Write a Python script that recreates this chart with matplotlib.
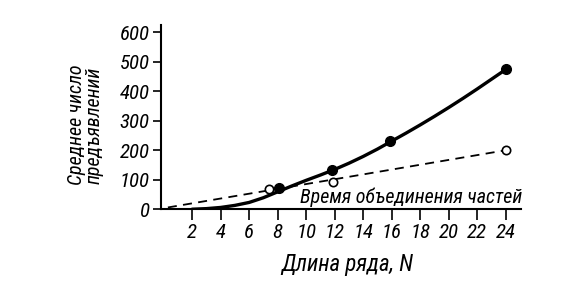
import matplotlib
matplotlib.use("Agg")
import matplotlib.pyplot as plt
from matplotlib import font_manager

# --- данные ---
# точки (заполненные кружки): среднее число предъявлений
N_FILLED = [8.1, 11.8, 15.9, 24]
Y_FILLED = [72, 132, 231, 474]
# точки (пустые кружки): время объединения частей
N_OPEN = [7.4, 11.9, 24]
Y_OPEN = [68, 93, 200]
# сглаженная кривая через заполненные точки
N_CURVE = [2, 3, 4, 5, 6, 7, 8, 9, 10, 11, 12, 13, 14, 15, 16,
           17, 18, 19, 20, 21, 22, 23, 24]
Y_CURVE = [0, 2, 6, 13, 23, 39, 59, 79, 98, 116, 135, 156, 179, 204, 231,
           258, 286, 315, 345, 376, 408, 441, 474]
# штриховая прямая
N_DASH = [0.3, 24]
Y_DASH = [6, 200]

X_TICKS = list(range(2, 25, 2))
Y_TICKS = list(range(0, 601, 100))

names = {f.name for f in font_manager.fontManager.ttflist}
if "Roboto Condensed" in names:
    FAMILY = ["Roboto Condensed", "DejaVu Sans"]
else:
    FAMILY = ["DejaVu Sans"]
plt.rcParams["font.family"] = FAMILY
plt.rcParams["font.style"] = "italic"

fig = plt.figure(figsize=(5.68, 2.87), dpi=100)
ax = fig.add_axes([0.283, 0.271, 0.635, 0.642])

ax.plot(N_CURVE, Y_CURVE, color="black", lw=2.4, solid_capstyle="round", zorder=2)
ax.plot(N_DASH, Y_DASH, color="black", lw=1.3, ls=(0, (5, 3.5)), zorder=2)
ax.plot(N_FILLED, Y_FILLED, "o", color="black", ms=7, zorder=3)
ax.plot(N_OPEN, Y_OPEN, "o", mfc="white", mec="black", mew=1.2, ms=6, zorder=3)

ax.text(9.6, 40, "Время объединения частей", fontsize=14.4, ha="left", va="center")

ax.set_xlim(-0.2, 25.1)
ax.set_ylim(0, 625)
ax.set_xticks(X_TICKS)
ax.set_yticks(Y_TICKS)
ax.tick_params(axis="both", direction="out", width=1.2, color="black", labelsize=15)
ax.tick_params(axis="x", length=8, pad=2)
ax.tick_params(axis="y", length=6, pad=2)
for s in ("top", "right"):
    ax.spines[s].set_visible(False)
for s in ("left", "bottom"):
    ax.spines[s].set_linewidth(1.5)

fig.text(347 / 568, 1 - 265 / 287, "Длина ряда, N", fontsize=16.5,
         ha="center", va="center")
fig.text(0.15, 1 - 125 / 287, "Среднее число\nпредъявлений", rotation=90,
         fontsize=14.4, ha="center", va="center", linespacing=0.9)

fig.savefig("out.png", dpi=100)
